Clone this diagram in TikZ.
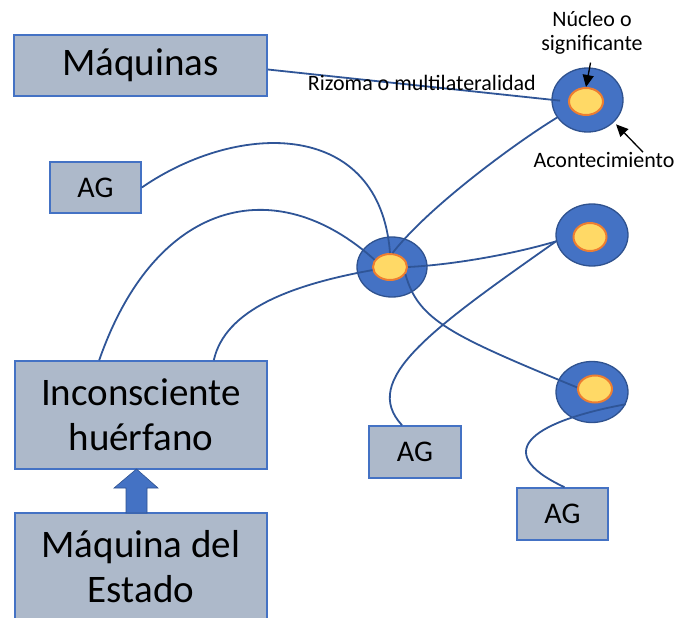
\documentclass[tikz,border=0pt]{standalone}
\usepackage{fontspec}
\setmainfont{Carlito}
\usetikzlibrary{arrows.meta,shapes.geometric,positioning,calc}

\definecolor{boxfill}{HTML}{ADB9CA}
\definecolor{boxline}{HTML}{4472C4}
\definecolor{cellfill}{HTML}{4472C4}
\definecolor{cellline}{HTML}{2F528F}
\definecolor{corefill}{HTML}{FFD966}
\definecolor{coreline}{HTML}{ED7D31}
\definecolor{linkcol}{HTML}{2F5597}

\begin{document}
\begin{tikzpicture}[x=1pt,y=-1pt,
  box/.style={draw=boxline,fill=boxfill,line width=1.6pt,inner sep=0pt,align=center},
  bigtxt/.style={font=\fontsize{39}{45}\selectfont},
  agtxt/.style={font=\fontsize{30}{34}\selectfont},
  smalltxt/.style={font=\fontsize{22}{24}\selectfont,inner sep=0pt,align=center},
  cell/.style={ellipse,draw=cellline,fill=cellfill,line width=1.3pt,inner sep=0pt},
  core/.style={ellipse,draw=coreline,fill=corefill,line width=2pt,inner sep=0pt},
  link/.style={draw=linkcol,line width=1.8pt},
  pointer/.style={draw=black,line width=1.3pt,-{Triangle[width=11pt,length=12pt]}}]

  \clip (0,0) rectangle (678,618);

  % boxes                               x,y centre
  \node[box,bigtxt,minimum width=253pt,minimum height=61pt]  (maq) at (140.5,65.5) {Máquinas};
  \node[box,agtxt,minimum width=91pt,minimum height=51pt]    (ag1) at (95.5,187.5) {AG};
  \node[box,bigtxt,minimum width=252pt,minimum height=108pt] (inc) at (141,415) {Inconsciente\\huérfano};
  \node[box,bigtxt,minimum width=252pt,minimum height=108pt] (est) at (141,567) {Máquina del\\Estado};
  \node[box,agtxt,minimum width=92pt,minimum height=52pt]    (ag2) at (415,452) {AG};
  \node[box,agtxt,minimum width=91pt,minimum height=52pt]    (ag3) at (562.5,514) {AG};

  % block arrow Estado -> Inconsciente
  \filldraw[fill=cellfill,draw=cellline,line width=0.6pt]
    (126,513) -- (126,488) -- (114,488) -- (136.5,469) -- (158,488) -- (147,488) -- (147,513) -- cycle;

  % cells with their cores
  \node[cell,minimum width=71pt,minimum height=64pt] (tout) at (587.5,100) {};
  \node[cell,minimum width=70pt,minimum height=60pt] (cout) at (392,267) {};
  \node[cell,minimum width=72pt,minimum height=62pt] (rout) at (592,235) {};
  \node[cell,minimum width=72pt,minimum height=61pt] (bout) at (592,392) {};

  \node[core,minimum width=34pt,minimum height=27pt] (tin) at (586,101.5) {};
  \node[core,minimum width=34pt,minimum height=26pt] (cin) at (390,267) {};
  \node[core,minimum width=33pt,minimum height=28pt] (rin) at (590,237) {};
  \node[core,minimum width=34pt,minimum height=27pt] (bin) at (595,389) {};

  % Maquinas to top cell, with its label on the line
  \draw[link,shorten >=8pt] ([yshift=-4pt]maq.east) -- node[smalltxt,pos=0.513,yshift=3pt] (riz) {Rizoma o multilateralidad} (tin.west);

  % the rhizome links
  \draw[link] (tout.210) .. controls (520,140) and (430,205) .. (cin.80);
  \draw[link] (ag1.east) .. controls (240,120) and (380,120) .. (cin.north);
  \draw[link] ([xshift=85pt]inc.north west) .. controls (155,200) and (275,170) .. (cin.155);
  \draw[link] ([xshift=-54pt]inc.north east) .. controls (225,310) and (290,285) .. (cin.190);
  \draw[link] (cin.east) .. controls (450,265) and (510,255) .. (rout.190);
  \draw[link] (rout.190) .. controls (430,330) and (360,380) .. ([xshift=-13pt]ag2.north);
  \draw[link] (cin.-25) .. controls (418,320) and (450,335) .. (bin.175);
  \draw[link] (bout.-20) .. controls (540,420) and (485,450) .. ([xshift=2pt]ag3.north);

  % annotations
  \node[smalltxt] (nuc) at (592,33) {Núcleo o\\significante};
  \node[smalltxt] (aco) at (604,160) {Acontecimiento};
  \draw[pointer,shorten <=8pt] (nuc.south) -- (tin.north);
  \draw[pointer,shorten >=3pt] ([xshift=39pt]aco.north) -- (tout.-40);
\end{tikzpicture}
\end{document}
